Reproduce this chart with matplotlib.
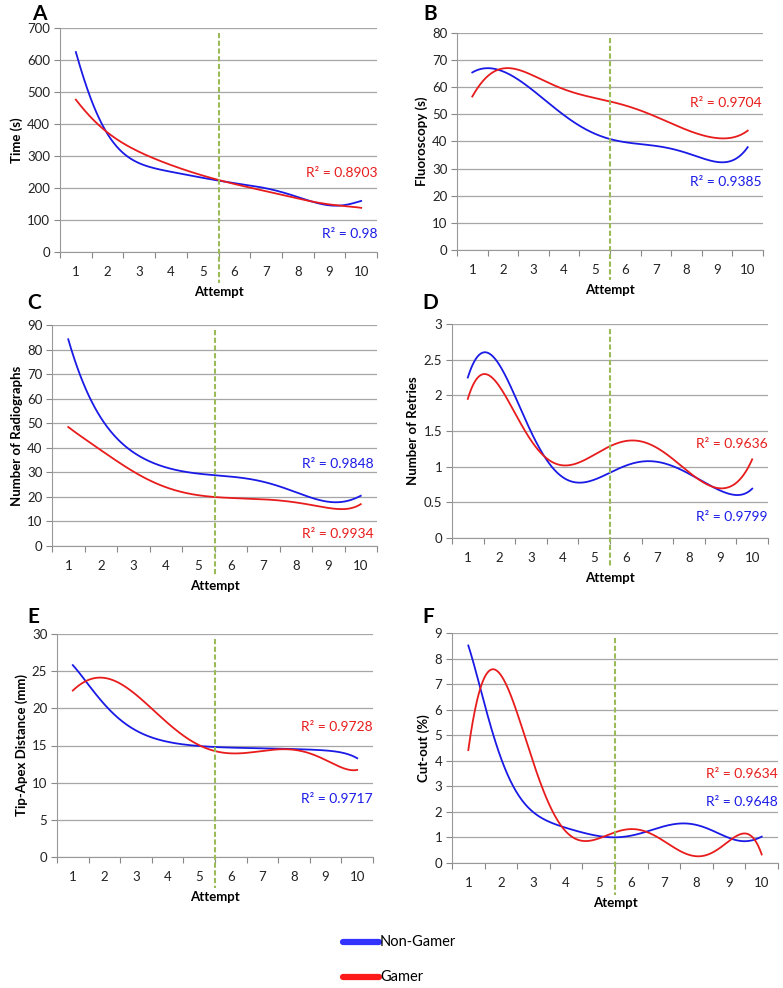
import numpy as np
import matplotlib.pyplot as plt
from matplotlib.lines import Line2D

plt.rcParams['font.family'] = ['Lato', 'DejaVu Sans']

attempts = list(range(1, 11))
# positions along the attempt axis where the trend curves were read
pts = np.arange(1, 10.01, 0.5)

time_nongamer = [624, 476, 362, 312, 278, 262, 250, 240, 231, 224, 216, 208, 200, 186, 170, 157, 148, 145, 160]
time_gamer = [476, 419, 372, 340, 313, 291, 272, 254, 239, 225, 213, 201, 190, 178, 167, 157, 149, 143, 138]

fluoro_nongamer = [65.5, 66.8, 66.2, 62.8, 58.5, 54, 49.8, 46, 43, 40.6, 39.6, 39.2, 38.5, 37.3, 35.7, 33.9, 32.5, 33.0, 37.9]
fluoro_gamer = [56.6, 64, 67, 66.5, 64.2, 61.5, 59.3, 57.5, 56, 54.8, 53.2, 51.4, 49.2, 46.7, 44.3, 42.4, 41.2, 41.5, 44]

radio_nongamer = [84, 66, 51, 44, 39, 34.5, 31.5, 30.3, 29.5, 29, 28.5, 27.5, 26, 24, 22, 19.8, 18, 18, 20.5]
radio_gamer = [48.5, 43.5, 39.3, 34.5, 30.2, 26.8, 24, 22, 20.6, 20, 19.6, 19.3, 18.9, 18.5, 18, 16.6, 15.3, 15.2, 17]

retry_nongamer = [2.25, 2.6, 2.43, 1.98, 1.49, 1.09, 0.86, 0.77, 0.81, 0.93, 1.01, 1.07, 1.065, 1.0, 0.91, 0.78, 0.65, 0.61, 0.69]
retry_gamer = [1.95, 2.3, 2.12, 1.75, 1.37, 1.12, 1.01, 1.04, 1.19, 1.29, 1.35, 1.35, 1.26, 1.1, 0.93, 0.78, 0.67, 0.79, 1.1]

tad_nongamer = [25.8, 23.2, 20.5, 18.4, 17.1, 16.1, 15.5, 15.1, 14.9, 14.8, 14.75, 14.7, 14.6, 14.55, 14.5, 14.45, 14.4, 14.0, 13.3]
tad_gamer = [22.4, 23.8, 24.1, 23.4, 21.8, 19.9, 18.0, 16.4, 15.1, 14.2, 13.9, 14.0, 14.3, 14.45, 14.5, 13.9, 13.0, 12.1, 11.7]

cut_nongamer = [8.5, 6.26, 4.04, 2.74, 2.02, 1.6, 1.37, 1.18, 1.04, 1.0, 1.1, 1.25, 1.43, 1.54, 1.47, 1.25, 1.04, 0.81, 1.04]
cut_gamer = [4.4, 7.37, 7.17, 5.93, 4.04, 2.2, 1.1, 0.87, 1.04, 1.24, 1.3, 1.15, 0.85, 0.5, 0.29, 0.39, 0.85, 1.17, 0.33]

r2_nongamer = ['0.98', '0.9385', '0.9848', '0.9799', '0.9717', '0.9648']
r2_gamer = ['0.8903', '0.9704', '0.9934', '0.9636', '0.9728', '0.9634']

BLUE = '#1a1ae6'
RED = '#e81c1c'
GREEN = '#9bbb59'
GRID = '#a6a6a6'

fig = plt.figure(figsize=(7.83, 9.88), dpi=100)


def panel(rect, letter, letter_xy, non, gam, ymax, ystep, ylabel, xlabel,
          r2n, r2g, yn, yg, xr=10.5):
    ax = fig.add_axes(rect)
    xs = np.linspace(1, 10, 400)
    for vals, col in ((non, BLUE), (gam, RED)):
        c = np.polyfit(pts, vals, 8)
        ax.plot(xs, np.polyval(c, xs), color=col, lw=1.3, zorder=3)
    ax.set_xlim(0.5, 10.5)
    ax.set_ylim(0, ymax)
    yt = np.arange(0, ymax + ystep / 2, ystep)
    ax.set_yticks(yt)
    ax.set_yticklabels(['{:g}'.format(v) for v in yt])
    ax.set_xticks(np.arange(0.5, 11, 1))
    ax.set_xticklabels([])
    ax.set_xticks(attempts, minor=True)
    ax.set_xticklabels([str(a) for a in attempts], minor=True)
    ax.tick_params(axis='x', which='major', length=4, color='#888888', direction='out')
    ax.tick_params(axis='x', which='minor', length=0, pad=10, labelsize=9.5, labelcolor='#222222')
    ax.tick_params(axis='y', length=4, color='#888888', pad=3, labelsize=9.5, labelcolor='#222222')
    ax.yaxis.grid(True, color=GRID, lw=0.9)
    ax.set_axisbelow(True)
    for s in ('top', 'right'):
        ax.spines[s].set_visible(False)
    for s in ('left', 'bottom'):
        ax.spines[s].set_color('#999999')
    ax.set_ylabel(ylabel, fontsize=9.5, fontweight='bold', labelpad=3)
    ax.set_xlabel(xlabel, fontsize=9.5, fontweight='bold', labelpad=6)
    ax.plot([5.5, 5.5], [0.978, -0.138], transform=ax.get_xaxis_transform(),
            clip_on=False, color=GREEN, ls='--', lw=1.5, dashes=(2.5, 1.2), zorder=4)
    ax.text(xr, yg, 'R\u00b2 = ' + r2g, color=RED, ha='right', va='center', fontsize=10)
    ax.text(xr, yn, 'R\u00b2 = ' + r2n, color=BLUE, ha='right', va='center', fontsize=10)
    fig.text(letter_xy[0] / 783, 1 - letter_xy[1] / 988, letter, fontsize=15,
             fontweight='bold', ha='left', va='center')
    return ax


W, H = 783, 988


def rect(l, r, t, b):
    return [l / W, 1 - b / H, (r - l) / W, (b - t) / H]


panel(rect(60, 377, 28, 252), 'A', (32, 14), time_nongamer, time_gamer, 700, 100,
      'Time (s)', 'Attempt', r2_nongamer[0], r2_gamer[0], 56, 247)
panel(rect(457, 763, 33, 250), 'B', (423, 14), fluoro_nongamer, fluoro_gamer, 80, 10,
      'Fluoroscopy (s)', 'Attempt', r2_nongamer[1], r2_gamer[1], 25, 54.2, 10.45)
panel(rect(52, 377, 325, 546), 'C', (27, 303), radio_nongamer, radio_gamer, 90, 10,
      'Number of Radiographs', 'Attempt', r2_nongamer[2], r2_gamer[2], 33.4, 4.9, 10.4)
panel(rect(452, 768, 324, 538), 'D', (422, 303), retry_nongamer, retry_gamer, 3, 0.5,
      'Number of Retries', 'Attempt', r2_nongamer[3], r2_gamer[3], 0.29, 1.32)
panel(rect(57, 373, 634, 857), 'E', (27, 617), tad_nongamer, tad_gamer, 30, 5,
      'Tip-Apex Distance (mm)', 'Attempt', r2_nongamer[4], r2_gamer[4], 7.8, 17.5)
panel(rect(452, 778, 633, 863), 'F', (422, 617), cut_nongamer, cut_gamer, 9, 1,
      'Cut-out (%)', 'Atempt', r2_nongamer[5], r2_gamer[5], 2.39, 3.48)

# legend at the bottom
for lab, col, y in (('Non-Gamer', '#3333ff', 942), ('Gamer', '#ff1a1a', 977)):
    fig.add_artist(Line2D([343 / W, 379 / W], [1 - y / H, 1 - y / H], color=col, lw=4.5,
                          solid_capstyle='round', transform=fig.transFigure))
    fig.text(380 / W, 1 - y / H, lab, fontsize=10.5, ha='left', va='center')

fig.savefig('out.png', dpi=100)
